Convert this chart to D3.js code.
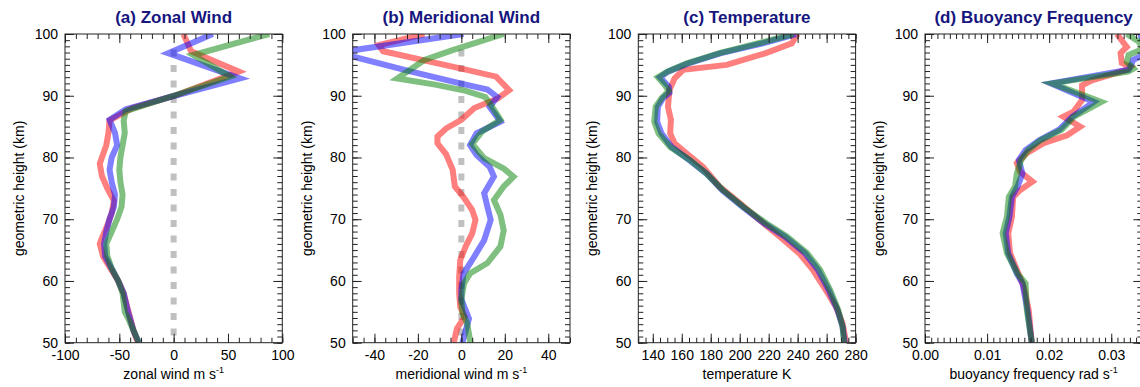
<!DOCTYPE html>
<html><head><meta charset="utf-8">
<script src="https://cdn.jsdelivr.net/npm/d3@7"></script>
<style>
body{margin:0;background:#fff}
svg{display:block}
text{font-family:"Liberation Sans",Arial,Helvetica,sans-serif}
</style></head>
<body><svg id="chart" width="1140" height="387"></svg>
<script>
// ---- data: [height km, value] ----
const zonalRed = [[100,9],[97.2,16],[93.9,60],[90,1],[88,-38],[86,-59],[84,-60],[82,-62],[80,-66],[79,-68],[77,-66],[75,-61],[73,-55],[71,-57],[69,-61],[67,-66],[66,-68],[64,-65],[62,-58],[60,-51],[58,-46],[56,-43],[54,-40],[52,-37],[50,-33]];
const zonalBlue = [[100,36],[96.9,-5],[92.8,61],[90,1],[87.8,-44],[86.1,-59],[84,-54],[82,-52],[80,-57],[78,-59],[76,-57],[74,-54],[72,-55],[70,-59],[68,-62],[66,-64],[64,-63],[62,-57],[60,-51],[58,-46],[55,-42],[52,-37],[50,-32]];
const zonalGreen = [[100,88],[96.6,18],[93.1,52],[90,0],[87.5,-44],[86,-46],[84,-45],[82,-47],[80,-49],[78,-50],[76,-49],[74,-47],[72,-48],[70,-52],[68,-57],[66,-62],[64,-61],[62,-57],[60,-51],[58,-47],[55,-45],[54,-42],[52,-37],[50,-32]];

const merRed = [[100,-17],[98.2,-38],[97.2,-36],[94.4,0],[93.1,16],[90.9,22],[89.6,17],[88,6],[86.1,0],[84.7,-7],[83.4,-11],[82.3,-11],[80.5,-7],[78,-4],[75.3,-3],[73.6,1],[71.5,5],[69.9,6.5],[67.7,5],[65.6,2],[63.4,-0.5],[60.7,-1],[58,-1],[55.8,-0.5],[54.2,1.5],[52.3,-2],[50,-3.5]];
const merBlue = [[100,1],[97,-57],[93.9,-23],[92,-0.5],[91,12],[89.8,16.5],[88.2,13],[85.8,18],[83.9,7],[82,4],[80.4,7],[78.5,13],[76.9,15],[74.2,10.5],[72,12],[69.9,13.5],[66.6,10.5],[63.4,5],[61.2,1],[58.5,0],[57,0],[53.9,3.5],[50,0.5]];
const merGreen = [[100,19.5],[97.4,-4],[95.8,-17],[92.8,-29.5],[91.8,-12],[90.8,2],[89.8,11],[88.3,14],[86.1,18],[84.2,9.5],[82.2,5],[79.9,10.5],[78.2,19.5],[76.9,24],[75.3,19.5],[73.1,15],[70.7,18],[68.2,19.5],[65.6,18],[62.9,12],[61.2,4],[59.6,1.2],[57,0],[54.8,0.5],[53.1,2.7],[50,4.2]];

const tempRed = [[100,240],[98.5,236],[96.9,218],[95,191],[94.2,161],[92.8,155],[90.9,151.5],[88.2,150.5],[86.1,152.5],[83.9,152],[82.3,155],[80.7,163],[78.5,174.5],[75.3,186],[72.6,200],[69.9,213.5],[67.2,227.5],[64.5,241],[61.8,250.5],[58.5,259.5],[55.8,266.5],[53.1,271],[50,273.5]];
const tempBlue = [[100,239],[98.5,216],[96.9,187],[95.2,164],[93.9,150.5],[93,145],[91.5,151],[90.5,151.5],[89.6,147],[88.2,143.5],[85.8,143],[83.9,146],[81.7,153],[79.6,165],[77.4,177],[74.7,188],[72,202],[69.3,217],[67.2,231],[64.5,245],[61.8,254],[58.5,261.5],[55.3,267.5],[52.6,271],[50,272.5]];
const tempGreen = [[100,237],[98.5,213],[96.9,186],[95.2,163],[93.9,150],[93,143.5],[91.8,148],[90.8,151],[89.6,146],[88.2,142],[85.8,141],[83.9,144],[81.7,152],[79.6,165.5],[77.4,177],[74.7,188.5],[72,202.5],[69.3,218.5],[67.2,232.5],[64.5,246.5],[61.8,255.5],[58.5,262.5],[55.3,268],[52.6,271],[50,272]];

const bvRed = [[100,0.0309],[97.9,0.0325],[96.9,0.0315],[95.3,0.0317],[94.7,0.0331],[94.2,0.0325],[92.5,0.0269],[91.7,0.0253],[89.3,0.0253],[87.4,0.0239],[86.6,0.0223],[85,0.025],[83.6,0.0229],[82.3,0.0191],[80.7,0.0164],[79.1,0.0148],[77.7,0.0153],[76.1,0.0173],[74.7,0.0153],[73.6,0.0142],[70.4,0.014],[67.7,0.0134],[64.5,0.0137],[61.8,0.0148],[59.1,0.0159],[55.3,0.0167],[50,0.0172]];
const bvBlue = [[100,0.0347],[98.5,0.0352],[97,0.0362],[95.8,0.0335],[95.2,0.0333],[94.2,0.0328],[92,0.0203],[89,0.0272],[86.6,0.0237],[84.5,0.0216],[82.8,0.0184],[81.2,0.0162],[79.6,0.0151],[77.4,0.0157],[75.3,0.0149],[73.6,0.014],[70.4,0.0136],[67.7,0.013],[64.5,0.0134],[61.2,0.0148],[59.6,0.0157],[55.3,0.0165],[50,0.0172]];
const bvGreen = [[100,0.0325],[98.8,0.0344],[97.6,0.0352],[96.6,0.0328],[95.5,0.0325],[94.4,0.0336],[93.9,0.0327],[92,0.0205],[89,0.0284],[86.6,0.024],[84.5,0.022],[82.8,0.0186],[81.2,0.0166],[79.6,0.0155],[77.4,0.0148],[75.3,0.0145],[73.6,0.0135],[70.4,0.0132],[67.7,0.0125],[64.5,0.0132],[61.2,0.0149],[59.6,0.0162],[55.3,0.0164],[50,0.0172]];

// zero reference line (km extent)
const zeroLine = [[97.5,0],[50,0]];

// ---- ticks & labels ----
const heightTicks = [50,60,70,80,90,100];
const zonalTicks = [-100,-50,0,50,100];
const merTicks = [-40,-20,0,20,40];
const tempTicks = [140,160,180,200,220,240,260,280];
const bvTicks = [0,0.01,0.02,0.03];
const titles = ["(a) Zonal Wind","(b) Meridional Wind","(c) Temperature","(d) Buoyancy Frequency"];
const xLabels = ["zonal wind m s","meridional wind m s","temperature K","buoyancy frequency rad s"];
const xSup = ["-1","-1","","-1"];
const yLabel = "geometric height (km)";
const seriesColors = ["#ff0000","#0000ff","#008000"];

// ---- layout ----
const svg = d3.select("#chart");
const plotTop = 34, plotBottom = 342.7, W = 217.3;
const lefts = [65, 352.7, 638.3, 925];

const panels = [
  {domain:[-100,100], major:zonalTicks, minor:d3.range(-100,101,10), fmt:d=>String(d), series:[zonalRed,zonalBlue,zonalGreen], zero:true},
  {domain:[-50,50], major:merTicks, minor:d3.range(-50,51,5), fmt:d=>String(d), series:[merRed,merBlue,merGreen], zero:true},
  {domain:[130,280], major:tempTicks, minor:d3.range(130,281,5), fmt:d=>String(d), series:[tempRed,tempBlue,tempGreen], zero:false},
  {domain:[0,0.035], major:bvTicks, minor:d3.range(0,36).map(i=>i*0.001), fmt:d=>d.toFixed(2), series:[bvRed,bvBlue,bvGreen], zero:false}
];

const y = d3.scaleLinear().domain([50,100]).range([plotBottom, plotTop]);
const yMinor = d3.range(50,101,1);

panels.forEach((p,i)=>{
  const L = lefts[i], R = L + W;
  const x = d3.scaleLinear().domain(p.domain).range([L, R]);
  const g = svg.append("g");
  const cid = "clip"+i;
  g.append("clipPath").attr("id",cid).append("rect").attr("x",L).attr("y",plotTop).attr("width",W).attr("height",plotBottom-plotTop);

  const plot = g.append("g").attr("clip-path",`url(#${cid})`);
  if (p.zero) {
    plot.append("path")
      .attr("d", d3.line().x(d=>x(d[1])).y(d=>y(d[0]))(zeroLine))
      .attr("fill","none").attr("stroke","#c0c0c0").attr("stroke-width",6)
      .attr("stroke-dasharray","7,8.5");
  }
  const line = d3.line().x(d=>x(d[1])).y(d=>y(d[0]));
  p.series.forEach((s,k)=>{
    plot.append("path").attr("d",line(s)).attr("fill","none")
      .attr("stroke",seriesColors[k]).attr("stroke-opacity",0.5)
      .attr("stroke-width",6).attr("stroke-linejoin","miter").attr("stroke-miterlimit",4);
  });

  const style = sel => { sel.select(".domain").remove(); sel.attr("font-family",null).attr("font-size",14).attr("color","#222"); sel.selectAll("text").attr("fill","#000"); };
  // bottom
  g.append("g").attr("transform",`translate(0,${plotBottom})`)
    .call(d3.axisBottom(x).tickValues(p.minor).tickSize(-5).tickFormat("")).call(style);
  g.append("g").attr("transform",`translate(0,${plotBottom})`)
    .call(d3.axisBottom(x).tickValues(p.major).tickSize(-9).tickPadding(7).tickFormat(p.fmt)).call(style);
  // top
  g.append("g").attr("transform",`translate(0,${plotTop})`)
    .call(d3.axisTop(x).tickValues(p.minor).tickSize(-5).tickFormat("")).call(style);
  g.append("g").attr("transform",`translate(0,${plotTop})`)
    .call(d3.axisTop(x).tickValues(p.major).tickSize(-9).tickFormat("")).call(style);
  // left
  g.append("g").attr("transform",`translate(${L},0)`)
    .call(d3.axisLeft(y).tickValues(yMinor).tickSize(-5).tickFormat("")).call(style);
  g.append("g").attr("transform",`translate(${L},0)`)
    .call(d3.axisLeft(y).tickValues(heightTicks).tickSize(-9).tickPadding(7).tickFormat(d=>String(d))).call(style);
  // right
  g.append("g").attr("transform",`translate(${R},0)`)
    .call(d3.axisRight(y).tickValues(yMinor).tickSize(-5).tickFormat("")).call(style);
  g.append("g").attr("transform",`translate(${R},0)`)
    .call(d3.axisRight(y).tickValues(heightTicks).tickSize(-9).tickFormat("")).call(style);

  g.append("rect").attr("x",L).attr("y",plotTop).attr("width",W).attr("height",plotBottom-plotTop)
    .attr("fill","none").attr("stroke","#222").attr("stroke-width",1);

  // title
  g.append("text").attr("x",(L+R)/2).attr("y",23).attr("text-anchor","middle")
    .attr("font-size",17).attr("font-weight","bold").attr("fill","#16167e").text(titles[i]);
  // x label
  const xl = g.append("text").attr("x",(L+R)/2).attr("y",379).attr("text-anchor","middle")
    .attr("font-size",14).attr("fill","#000").text(xLabels[i]);
  if (xSup[i]) xl.append("tspan").attr("dy",-6).attr("font-size",9).text(xSup[i]);
  // y label
  g.append("text").attr("transform",`translate(${L-41},${(plotTop+plotBottom)/2}) rotate(-90)`)
    .attr("text-anchor","middle").attr("font-size",14).attr("fill","#000").text(yLabel);
});
</script></body></html>
